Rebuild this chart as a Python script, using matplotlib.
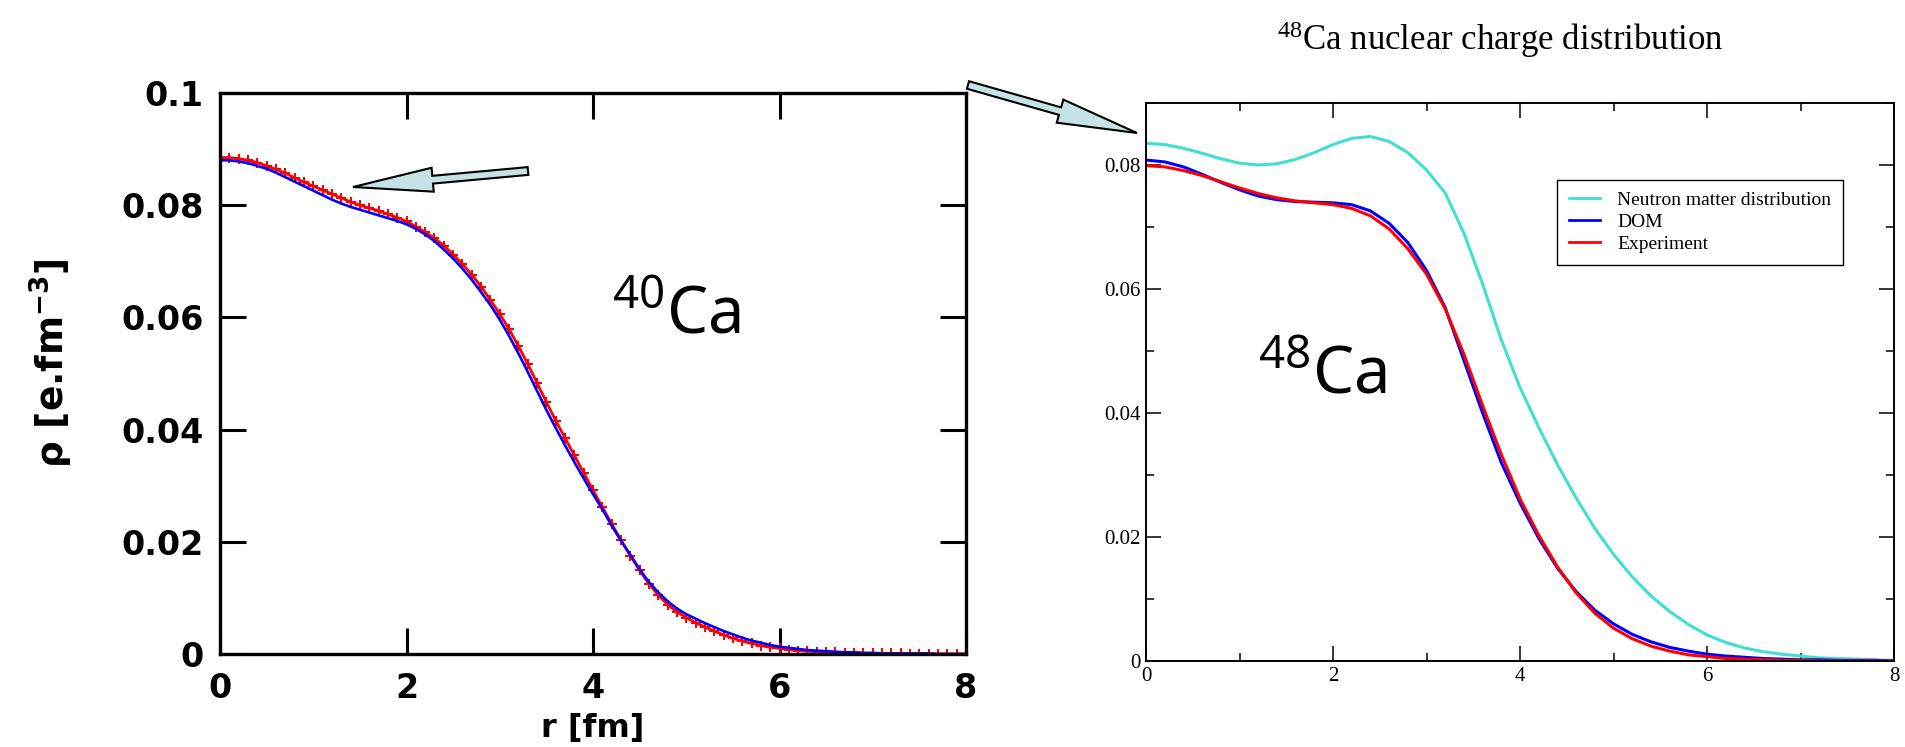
import numpy as np
import matplotlib
matplotlib.use("Agg")
import matplotlib.pyplot as plt
from matplotlib.patches import FancyArrow
from matplotlib.ticker import MultipleLocator

plt.rcParams["mathtext.default"] = "regular"

# ---------------------------------------------------------------
# 40Ca charge density (left), sampled every 0.1 fm
# ---------------------------------------------------------------
r_left = np.linspace(0.0, 8.0, 81)
rho40_exp = [
    0.0885, 0.0885, 0.0883, 0.0880, 0.0876, 0.0870, 0.0864, 0.0857, 0.0849, 0.0841,
    0.0834, 0.0827, 0.0820, 0.0813, 0.0806, 0.0800, 0.0795, 0.0790, 0.0784, 0.0778,
    0.0771, 0.0762, 0.0752, 0.0741, 0.0728, 0.0712, 0.0695, 0.0676, 0.0655, 0.0631,
    0.0606, 0.0579, 0.0549, 0.0517, 0.0483, 0.0449, 0.0416, 0.0385, 0.0354, 0.0323,
    0.0292, 0.0262, 0.0232, 0.0203, 0.0175, 0.0149, 0.0125, 0.0105, 0.0088, 0.0075,
    0.0065, 0.0056, 0.0048, 0.0041, 0.0034, 0.0028, 0.0023, 0.0019, 0.0015, 0.0012,
    0.0010, 0.0008, 0.0006, 0.0005, 0.0004, 0.0003, 0.0003, 0.0002, 0.0002, 0.0001,
    0.0001, 0.0001, 0.0001, 0.0001, 0.0000, 0.0000, 0.0000, 0.0000, 0.0000, 0.0000,
    0.0000,
]
rho40_dom = [
    0.0880, 0.0880, 0.0878, 0.0875, 0.0870, 0.0865, 0.0858, 0.0850, 0.0842, 0.0834,
    0.0826, 0.0818, 0.0810, 0.0803, 0.0797, 0.0792, 0.0787, 0.0782, 0.0777, 0.0772,
    0.0766, 0.0758, 0.0748, 0.0736, 0.0721, 0.0705, 0.0687, 0.0667, 0.0645, 0.0622,
    0.0596, 0.0567, 0.0536, 0.0503, 0.0469, 0.0435, 0.0403, 0.0372, 0.0342, 0.0313,
    0.0285, 0.0258, 0.0229, 0.0202, 0.0177, 0.0151, 0.0128, 0.0110, 0.0094, 0.0081,
    0.0071, 0.0063, 0.0055, 0.0048, 0.0041, 0.0035, 0.0029, 0.0024, 0.0020, 0.0016,
    0.0013, 0.0011, 0.0009, 0.0007, 0.0006, 0.0005, 0.0004, 0.0003, 0.0003, 0.0002,
    0.0002, 0.0001, 0.0001, 0.0001, 0.0001, 0.0001, 0.0001, 0.0000, 0.0000, 0.0000,
    0.0000,
]

# ---------------------------------------------------------------
# 48Ca densities (right), sampled every 0.2 fm
# ---------------------------------------------------------------
r_right = np.linspace(0.0, 8.0, 41)
rho48_neutron = [
    0.0835, 0.0833, 0.0827, 0.0819, 0.0810, 0.0803, 0.0800, 0.0802, 0.0809, 0.0820,
    0.0833, 0.0843, 0.0846, 0.0838, 0.0820, 0.0792, 0.0755, 0.0690, 0.0608, 0.0518,
    0.0441, 0.0377, 0.0317, 0.0263, 0.0214, 0.0172, 0.0136, 0.0105, 0.0080, 0.0059,
    0.0042, 0.0030, 0.0021, 0.0015, 0.0011, 0.0008, 0.0005, 0.0004, 0.0003, 0.0002,
    0.0001,
]
rho48_dom = [
    0.0808, 0.0805, 0.0797, 0.0785, 0.0772, 0.0760, 0.0750, 0.0744, 0.0741, 0.0740,
    0.0739, 0.0736, 0.0726, 0.0706, 0.0675, 0.0630, 0.0570, 0.0485, 0.0400, 0.0320,
    0.0255, 0.0198, 0.0150, 0.0112, 0.0082, 0.0060, 0.0043, 0.0031, 0.0022, 0.0016,
    0.0011, 0.0008, 0.0006, 0.0004, 0.0003, 0.0002, 0.0002, 0.0001, 0.0001, 0.0001,
    0.0000,
]
rho48_exp = [
    0.0799, 0.0797, 0.0791, 0.0783, 0.0773, 0.0763, 0.0754, 0.0747, 0.0742, 0.0739,
    0.0736, 0.0730, 0.0718, 0.0697, 0.0665, 0.0624, 0.0568, 0.0495, 0.0412, 0.0333,
    0.0262, 0.0203, 0.0152, 0.0110, 0.0077, 0.0053, 0.0036, 0.0024, 0.0016, 0.0010,
    0.0007, 0.0004, 0.0003, 0.0002, 0.0001, 0.0001, 0.0000, 0.0000, 0.0000, 0.0000,
    0.0000,
]

left_xticks = [0, 2, 4, 6, 8]
left_yticks = [0, 0.02, 0.04, 0.06, 0.08, 0.1]
left_ylabels = ["0", "0.02", "0.04", "0.06", "0.08", "0.1"]
right_xticks = [0, 2, 4, 6, 8]
right_yticks = [0, 0.02, 0.04, 0.06, 0.08]
right_ylabels = ["0", "0.02", "0.04", "0.06", "0.08"]

W, H = 1905, 747
fig = plt.figure(figsize=(W / 100, H / 100), dpi=100)

# ---- left: 40Ca ------------------------------------------------
ax1 = fig.add_axes([220 / W, (H - 654) / H, 746 / W, 561 / H])
ax1.plot(r_left, rho40_exp, color="red", lw=2.0, marker="+", ms=7, mew=1.5)
ax1.plot(r_left, rho40_dom, color="blue", lw=1.9)
ax1.set_xlim(0, 8)
ax1.set_ylim(0, 0.1)
ax1.set_xticks(left_xticks)
ax1.set_xticklabels([str(t) for t in left_xticks])
ax1.set_yticks(left_yticks)
ax1.set_yticklabels(left_ylabels)
ax1.tick_params(direction="in", length=19, width=2.2, top=True, right=True,
                labelsize=24)
ax1.tick_params(axis="x", pad=13)
ax1.tick_params(axis="y", pad=12)
for lab in ax1.get_xticklabels() + ax1.get_yticklabels():
    lab.set_fontfamily("DejaVu Sans")
    lab.set_fontweight("bold")
for sp in ax1.spines.values():
    sp.set_linewidth(2.4)
ax1.set_xlabel("r [fm]", fontsize=23, fontweight="bold",
               fontfamily="DejaVu Sans", labelpad=6)
ax1.set_ylabel("ρ [e.fm$^{-3}$]", fontsize=27, fontweight="bold",
               fontfamily="DejaVu Sans")
ax1.yaxis.set_label_coords(-0.194, 0.519)

# ---- right: 48Ca -----------------------------------------------
ax2 = fig.add_axes([1146 / W, (H - 661) / H, 748 / W, 558 / H])
ax2.plot(r_right, rho48_neutron, color="#40e0d0", lw=2.2,
         label="Neutron matter distribution")
ax2.plot(r_right, rho48_dom, color="blue", lw=2.2, label="DOM")
ax2.plot(r_right, rho48_exp, color="red", lw=2.2, label="Experiment")
ax2.set_xlim(0, 8)
ax2.set_ylim(0, 0.09)
ax2.set_xticks(right_xticks)
ax2.set_xticklabels([str(t) for t in right_xticks])
ax2.set_yticks(right_yticks)
ax2.set_yticklabels(right_ylabels)
ax2.xaxis.set_minor_locator(MultipleLocator(1))
ax2.yaxis.set_minor_locator(MultipleLocator(0.01))
ax2.tick_params(which="major", direction="in", length=11, width=1.1,
                top=True, right=True, labelsize=15, pad=4)
ax2.tick_params(which="minor", direction="in", length=6, width=1.1,
                top=True, right=True)
for lab in ax2.get_xticklabels() + ax2.get_yticklabels():
    lab.set_fontfamily("Liberation Serif")
for sp in ax2.spines.values():
    sp.set_linewidth(1.4)

leg = ax2.legend(loc="upper left", bbox_to_anchor=(1557 / W, (H - 180) / H),
                 bbox_transform=fig.transFigure, borderaxespad=0,
                 prop={"family": "Liberation Serif", "size": 14},
                 fancybox=False, framealpha=1, edgecolor="black",
                 handlelength=1.6, handletextpad=0.9, labelspacing=0.22,
                 borderpad=0.6)
leg.get_frame().set_linewidth(1.0)
for line in leg.get_lines():
    line.set_linewidth(2.0)

# ---- titles and isotope tags -----------------------------------
fig.text(1500 / W, (H - 50) / H, "$^{48}$Ca nuclear charge distribution",
         ha="center", va="baseline", fontsize=25, fontfamily="Liberation Serif")
fig.text(612 / W, (H - 333) / H, "$^{40}$Ca", ha="left", va="baseline",
         fontsize=47, fontfamily="Noto Sans")
fig.text(1258 / W, (H - 394) / H, "$^{48}$Ca", ha="left", va="baseline",
         fontsize=47, fontfamily="Noto Sans")

# ---- block arrows (inches from the lower-left corner) ----------
arrow_style = dict(width=0.078, head_width=0.24, head_length=0.8,
                   length_includes_head=True, fc="#c5e3e4", ec="black",
                   lw=1.5, transform=fig.dpi_scale_trans)
fig.add_artist(FancyArrow(5.28, 5.76, 3.53 - 5.28, 5.60 - 5.76, **arrow_style))
fig.add_artist(FancyArrow(9.68, 6.62, 11.37 - 9.68, 6.14 - 6.62, **arrow_style))

fig.savefig("out.png", dpi=100)
